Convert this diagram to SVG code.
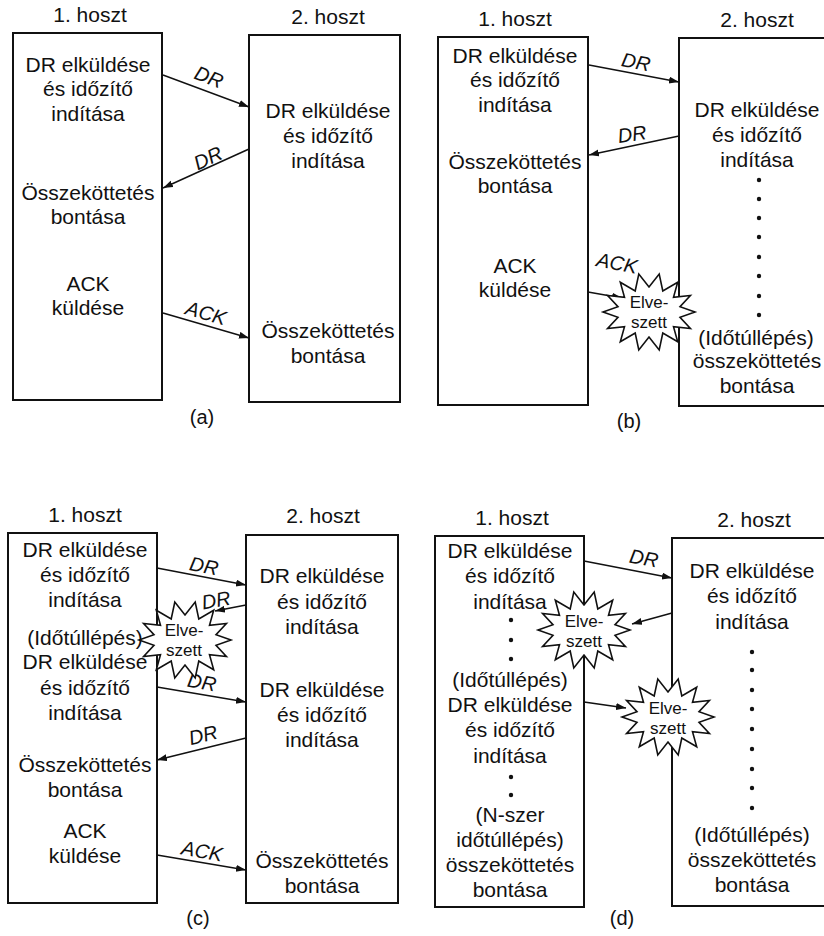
<svg xmlns="http://www.w3.org/2000/svg" xmlns:xlink="http://www.w3.org/1999/xlink" width="824" height="936" viewBox="0 0 824 936">
<style>
.box{fill:none;stroke:#111;stroke-width:2}
.t{font-family:"Liberation Sans",Arial,sans-serif;font-size:21px;fill:#111;text-anchor:middle}
.bt{font-family:"Liberation Sans",Arial,sans-serif;font-size:17px;fill:#111;text-anchor:middle}
.lb{font-family:"Liberation Sans",Arial,sans-serif;font-size:20px;font-style:italic;fill:#111;text-anchor:middle}
.cap{font-family:"Liberation Sans",Arial,sans-serif;font-size:20px;fill:#111;text-anchor:middle}
.ar{fill:none;stroke:#111;stroke-width:1.5;marker-end:url(#ah)}
.burst{fill:#fff;stroke:#111;stroke-width:1.6;stroke-linejoin:miter}
.dot{fill:#111}
</style>
<defs>
<marker id="ah" markerUnits="userSpaceOnUse" markerWidth="11" markerHeight="8" refX="10" refY="3.5" orient="auto">
<path d="M0,0 L10,3.5 L0,7 z" fill="#111"/>
</marker>
<polygon id="bp" points="46,0 31,5.3 41.4,16.5 24.5,14.6 28.7,29.7 13.8,21 10.2,38 0,25 -10.2,38 -13.8,21 -28.7,29.7 -24.5,14.6 -41.4,16.5 -31,5.3 -46,0 -31,-5.3 -41.4,-16.5 -24.5,-14.6 -28.7,-29.7 -13.8,-21 -10.2,-38 0,-25 10.2,-38 13.8,-21 28.7,-29.7 24.5,-14.6 41.4,-16.5 31,-5.3"/>
</defs>
<rect width="824" height="936" fill="#fff"/>

<!-- Panel (a) -->
<g id="a-host1">
<text class="t" x="90" y="22">1. hoszt</text>
<rect class="box" x="13" y="33" width="149" height="367"/>
<text class="t" x="88" y="72">DR elküldése</text>
<text class="t" x="88" y="96">és időzítő</text>
<text class="t" x="88" y="121">indítása</text>
<text class="t" x="88" y="200">Összeköttetés</text>
<text class="t" x="88" y="224">bontása</text>
<text class="t" x="88" y="291">ACK</text>
<text class="t" x="88" y="315">küldése</text>
</g>
<g id="a-host2">
<text class="t" x="328" y="24">2. hoszt</text>
<rect class="box" x="249" y="35" width="151" height="367"/>
<text class="t" x="328" y="118">DR elküldése</text>
<text class="t" x="328" y="143">és időzítő</text>
<text class="t" x="328" y="168">indítása</text>
<text class="t" x="328" y="338">Összeköttetés</text>
<text class="t" x="328" y="363">bontása</text>
</g>
<text class="cap" x="202" y="424">(a)</text>

<!-- Panel (b) -->
<g id="b-host1">
<text class="t" x="515" y="26">1. hoszt</text>
<rect class="box" x="438" y="37" width="150" height="368"/>
<text class="t" x="515" y="63">DR elküldése</text>
<text class="t" x="515" y="87">és időzítő</text>
<text class="t" x="515" y="112">indítása</text>
<text class="t" x="515" y="169">Összeköttetés</text>
<text class="t" x="515" y="193">bontása</text>
<text class="t" x="515" y="273">ACK</text>
<text class="t" x="515" y="297">küldése</text>
</g>
<g id="b-host2">
<text class="t" x="757" y="27">2. hoszt</text>
<rect class="box" x="679" y="38" width="160" height="368"/>
<text class="t" x="757" y="117">DR elküldése</text>
<text class="t" x="757" y="142">és időzítő</text>
<text class="t" x="757" y="167">indítása</text>
<circle class="dot" cx="759" cy="180" r="2.2"/>
<circle class="dot" cx="759" cy="199" r="2.2"/>
<circle class="dot" cx="759" cy="218" r="2.2"/>
<circle class="dot" cx="759" cy="237" r="2.2"/>
<circle class="dot" cx="759" cy="257" r="2.2"/>
<circle class="dot" cx="759" cy="276" r="2.2"/>
<circle class="dot" cx="759" cy="296" r="2.2"/>
<circle class="dot" cx="759" cy="315" r="2.2"/>
<text class="t" x="756" y="345">(Időtúllépés)</text>
<text class="t" x="757" y="368">összeköttetés</text>
<text class="t" x="757" y="393">bontása</text>
</g>
<text class="cap" x="629" y="428">(b)</text>

<!-- Panel (c) -->
<g id="c-host1">
<text class="t" x="85" y="522">1. hoszt</text>
<rect class="box" x="8" y="533" width="149" height="370"/>
<text class="t" x="85" y="557">DR elküldése</text>
<text class="t" x="85" y="582">és időzítő</text>
<text class="t" x="85" y="607">indítása</text>
<text class="t" x="85" y="645">(Időtúllépés)</text>
<text class="t" x="85" y="669">DR elküldése</text>
<text class="t" x="85" y="695">és időzítő</text>
<text class="t" x="85" y="720">indítása</text>
<text class="t" x="85" y="772">Összeköttetés</text>
<text class="t" x="85" y="797">bontása</text>
<text class="t" x="85" y="838">ACK</text>
<text class="t" x="85" y="863">küldése</text>
</g>
<g id="c-host2">
<text class="t" x="323" y="523">2. hoszt</text>
<rect class="box" x="246" y="535" width="152" height="368"/>
<text class="t" x="322" y="583">DR elküldése</text>
<text class="t" x="322" y="609">és időzítő</text>
<text class="t" x="322" y="634">indítása</text>
<text class="t" x="322" y="697">DR elküldése</text>
<text class="t" x="322" y="722">és időzítő</text>
<text class="t" x="322" y="747">indítása</text>
<text class="t" x="322" y="868">Összeköttetés</text>
<text class="t" x="322" y="893">bontása</text>
</g>
<text class="cap" x="198" y="925">(c)</text>

<!-- Panel (d) -->
<g id="d-host1">
<text class="t" x="512" y="525">1. hoszt</text>
<rect class="box" x="435" y="536" width="149" height="371"/>
<text class="t" x="510" y="558">DR elküldése</text>
<text class="t" x="510" y="583">és időzítő</text>
<text class="t" x="510" y="609">indítása</text>
<circle class="dot" cx="511" cy="620" r="2.2"/>
<circle class="dot" cx="511" cy="640" r="2.2"/>
<circle class="dot" cx="511" cy="659" r="2.2"/>
<text class="t" x="510" y="687">(Időtúllépés)</text>
<text class="t" x="510" y="712">DR elküldése</text>
<text class="t" x="510" y="737">és időzítő</text>
<text class="t" x="510" y="763">indítása</text>
<circle class="dot" cx="511" cy="777" r="2.2"/>
<circle class="dot" cx="511" cy="795" r="2.2"/>
<text class="t" x="510" y="822">(N-szer</text>
<text class="t" x="510" y="847">időtúllépés)</text>
<text class="t" x="510" y="872">összeköttetés</text>
<text class="t" x="510" y="897">bontása</text>
</g>
<g id="d-host2">
<text class="t" x="754" y="527">2. hoszt</text>
<rect class="box" x="672" y="538" width="160" height="368"/>
<text class="t" x="752" y="578">DR elküldése</text>
<text class="t" x="752" y="603">és időzítő</text>
<text class="t" x="752" y="629">indítása</text>
<circle class="dot" cx="752" cy="652" r="2.2"/>
<circle class="dot" cx="752" cy="670" r="2.2"/>
<circle class="dot" cx="752" cy="690" r="2.2"/>
<circle class="dot" cx="752" cy="709" r="2.2"/>
<circle class="dot" cx="752" cy="729" r="2.2"/>
<circle class="dot" cx="752" cy="749" r="2.2"/>
<circle class="dot" cx="752" cy="769" r="2.2"/>
<circle class="dot" cx="752" cy="788" r="2.2"/>
<circle class="dot" cx="752" cy="808" r="2.2"/>
<text class="t" x="752" y="842">(Időtúllépés)</text>
<text class="t" x="752" y="867">összeköttetés</text>
<text class="t" x="752" y="892">bontása</text>
</g>
<text class="cap" x="622" y="925">(d)</text>

<!-- Connectors -->
<g id="connectors">
<line class="ar" x1="163" y1="75" x2="249" y2="107"/>
<text class="lb" transform="translate(209,77) rotate(21)" y="7">DR</text>
<line class="ar" x1="249" y1="149" x2="163" y2="188"/>
<text class="lb" transform="translate(208,158) rotate(-25)" y="7">DR</text>
<line class="ar" x1="163" y1="313" x2="249" y2="338"/>
<text class="lb" transform="translate(206,313) rotate(16)" y="7">ACK</text>

<line class="ar" x1="589" y1="65" x2="679" y2="82"/>
<text class="lb" transform="translate(636,62) rotate(11)" y="7">DR</text>
<line class="ar" x1="679" y1="136" x2="589" y2="155"/>
<text class="lb" transform="translate(632,134) rotate(-8)" y="7">DR</text>
<line class="ar" x1="588" y1="292" x2="622" y2="298"/>
<text class="lb" transform="translate(617,263) rotate(11)" y="7">ACK</text>

<line class="ar" x1="157" y1="568" x2="246" y2="585"/>
<text class="lb" transform="translate(204,566) rotate(11)" y="7">DR</text>
<line class="ar" x1="246" y1="605" x2="215" y2="611"/>
<text class="lb" transform="translate(216,600) rotate(-10)" y="7">DR</text>
<line class="ar" x1="157" y1="687" x2="246" y2="702"/>
<text class="lb" transform="translate(202,682) rotate(10)" y="7">DR</text>
<line class="ar" x1="246" y1="738" x2="157" y2="760"/>
<text class="lb" transform="translate(203,735) rotate(-14)" y="7">DR</text>
<line class="ar" x1="157" y1="855" x2="246" y2="870"/>
<text class="lb" transform="translate(202,851) rotate(10)" y="7">ACK</text>

<line class="ar" x1="584" y1="561" x2="672" y2="578"/>
<text class="lb" transform="translate(644,558) rotate(10)" y="7">DR</text>
<line class="ar" x1="672" y1="613" x2="632" y2="624"/>
<line class="ar" x1="584" y1="702" x2="626" y2="708"/>
</g>

<!-- Lost markers -->
<g id="b-lost">
<use xlink:href="#bp" href="#bp" class="burst" transform="translate(649,312)"/>
<text class="bt" x="649" y="308">Elve-<tspan x="649" dy="20">szett</tspan></text>
</g>
<g id="c-lost">
<use xlink:href="#bp" href="#bp" class="burst" transform="translate(185,640)"/>
<text class="bt" x="184" y="636">Elve-<tspan x="184" dy="20">szett</tspan></text>
</g>
<g id="d-lost1">
<use xlink:href="#bp" href="#bp" class="burst" transform="translate(584,630)"/>
<text class="bt" x="584" y="627">Elve-<tspan x="584" dy="20">szett</tspan></text>
</g>
<g id="d-lost2">
<use xlink:href="#bp" href="#bp" class="burst" transform="translate(668,717)"/>
<text class="bt" x="668" y="714">Elve-<tspan x="668" dy="20">szett</tspan></text>
</g>
</svg>
